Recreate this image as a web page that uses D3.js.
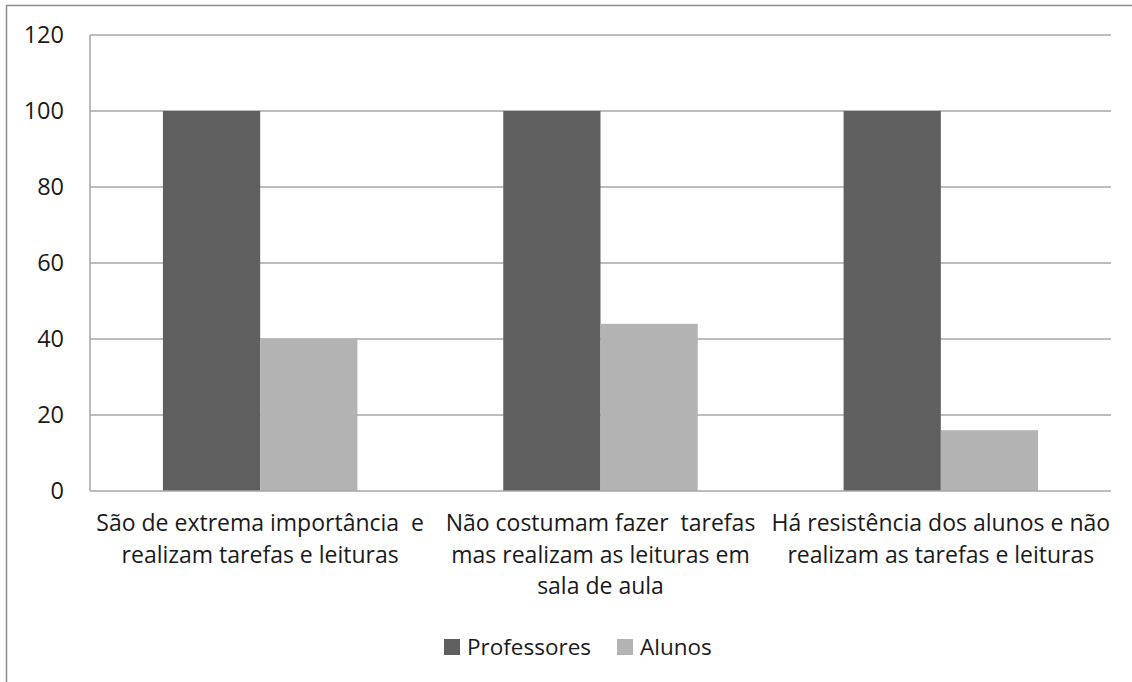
<!DOCTYPE html>
<html>
<head>
<meta charset="utf-8">
<script src="https://cdn.jsdelivr.net/npm/d3@7"></script>
<style>
  html, body { margin: 0; padding: 0; background: #fff; }
  svg { display: block; }
  text { font-family: "Open Sans", "Liberation Sans", sans-serif; fill: #1a1a1a; white-space: pre; }
</style>
</head>
<body>
<script>
// Categories (each label split into its display lines)
const categories = [
  ["São de extrema importância  e", "realizam tarefas e leituras"],
  ["Não costumam fazer  tarefas", "mas realizam as leituras em", "sala de aula"],
  ["Há resistência dos alunos e não", "realizam as tarefas e leituras"]
];
const seriesNames = ["Professores", "Alunos"];
const professores = [100, 100, 100];
const alunos = [40, 44, 16];
const yTicks = [0, 20, 40, 60, 80, 100, 120];
const colors = ["#5f5f5f", "#b3b3b3"];

const W = 1132, H = 682;
const plot = { left: 90, right: 1111, top: 35, bottom: 491 };

const svg = d3.select("body").append("svg")
  .attr("width", W).attr("height", H);

// outer frame (top and left edges)
svg.append("path")
  .attr("d", `M6.5,${H} V5.5 H${W}`)
  .attr("fill", "none").attr("stroke", "#8c8c8c").attr("stroke-width", 1.5);

const catIds = categories.map((_, i) => i);
const x0 = d3.scaleBand().domain(catIds).range([plot.left, plot.right]).padding(0);
const x1 = d3.scaleBand().domain(seriesNames).range([0, x0.bandwidth()])
  .paddingInner(0).paddingOuter(0.75);
const y = d3.scaleLinear().domain([0, 120]).range([plot.bottom, plot.top]);

// horizontal gridlines
svg.append("g")
  .selectAll("line").data(yTicks.filter(t => t > 0)).join("line")
  .attr("x1", plot.left).attr("x2", plot.right)
  .attr("y1", d => y(d)).attr("y2", d => y(d))
  .attr("stroke", "#a6a6a6").attr("stroke-width", 1.5);

// bars
const rows = catIds.map(i => ({ i, vals: [professores[i], alunos[i]] }));
const groups = svg.append("g").selectAll("g").data(rows).join("g")
  .attr("transform", d => `translate(${x0(d.i)},0)`);
groups.selectAll("rect")
  .data(d => d.vals.map((v, k) => ({ k, v })))
  .join("rect")
  .attr("x", d => x1(seriesNames[d.k]))
  .attr("width", x1.bandwidth())
  .attr("y", d => y(d.v))
  .attr("height", d => y(0) - y(d.v))
  .attr("fill", d => colors[d.k]);

// axes lines
svg.append("line")
  .attr("x1", plot.left).attr("x2", plot.left)
  .attr("y1", plot.top).attr("y2", plot.bottom)
  .attr("stroke", "#a6a6a6").attr("stroke-width", 1.5);
svg.append("line")
  .attr("x1", plot.left).attr("x2", plot.right)
  .attr("y1", plot.bottom).attr("y2", plot.bottom)
  .attr("stroke", "#a6a6a6").attr("stroke-width", 1.5);

// y tick labels
svg.append("g").selectAll("text").data(yTicks).join("text")
  .attr("x", 64).attr("y", d => y(d))
  .attr("dy", "0.36em")
  .attr("text-anchor", "end")
  .style("font-size", "23.5px")
  .text(d => d);

// category labels
const lab = svg.append("g").selectAll("text").data(rows).join("text")
  .attr("text-anchor", "middle")
  .style("font-size", "23px");
lab.selectAll("tspan").data(d => categories[d.i].map(s => ({ s, i: d.i })))
  .join("tspan")
  .attr("x", d => x0(d.i) + x0.bandwidth() / 2)
  .attr("y", (d, k) => 531 + k * 31.5)
  .text(d => d.s);

// legend
const legend = [
  { name: seriesNames[0], color: colors[0], x: 444 },
  { name: seriesNames[1], color: colors[1], x: 617 }
];
const lg = svg.append("g").selectAll("g").data(legend).join("g")
  .attr("transform", d => `translate(${d.x},0)`);
lg.append("rect").attr("x", 0).attr("y", 639).attr("width", 16).attr("height", 16)
  .attr("fill", d => d.color);
lg.append("text").attr("x", 23).attr("y", 655)
  .style("font-size", "22.5px").text(d => d.name);
</script>
</body>
</html>
